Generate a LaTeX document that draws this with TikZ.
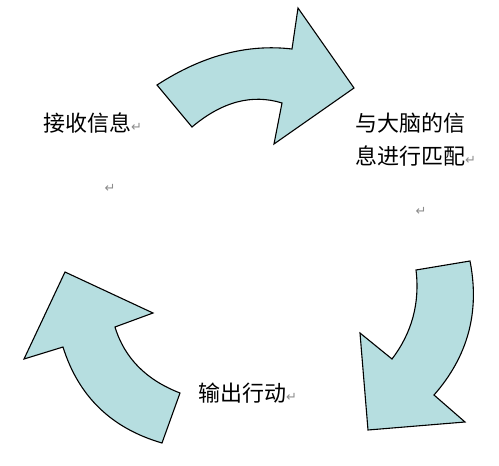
\documentclass[tikz,border=0pt]{standalone}
\usepackage{fontspec}
\newfontfamily\cjk{Noto Sans CJK SC}
\newfontfamily\markfont{DejaVu Sans}
\definecolor{arrowfill}{RGB}{182,222,224}
\newcommand\retmark{{\markfont\fontsize{13}{14}\selectfont\color{black!45}↵}}

\begin{document}
\begin{tikzpicture}[x=1pt, y=-1pt]
      \tikzstyle{every node} = [inner sep = 0pt, font=\cjk\fontsize{22}{26}\selectfont];
      \tikzstyle{bigarrow} = [draw=black, line width=1.1pt, fill=arrowfill, line join=miter];
      \useasboundingbox (0,0) rectangle (499,466);
      % top arrow
      \draw[bigarrow] (157,85) .. controls (202,55.7) and (247,43.7) .. (292,49) -- (298,8) -- (354,88)
        -- (274,144) -- (282,103) .. controls (252,93.7) and (222,101.7) .. (192,127) -- cycle;
      % right arrow
      \draw[bigarrow] (416,270) -- (470,261) .. controls (480,311.7) and (468,356.3) .. (434,395) -- (465,422)
        -- (368,430) -- (360,333) -- (392,359) .. controls (412,332.7) and (420,303) .. (416,270) -- cycle;
      % left arrow
      \draw[bigarrow] (162,443) -- (180,393) .. controls (146.1,379.9) and (124.4,357.9) .. (115,327) -- (153,313)
        -- (65,272) -- (24,359) -- (63,347) .. controls (78.4,396.3) and (111.4,428.3) .. (162,443) -- cycle;
      \node[anchor=base west] (receive) at (43,131.4) {接收信息\retmark};
      \node[anchor=base west] (match1) at (355,131.4) {与大脑的信};
      \node[anchor=base west] (match2) at (355,164.4) {息进行匹配\retmark};
      \node[anchor=base west] (act) at (198,401.4) {输出行动\retmark};
      \node (mark1) at (110,188) {\retmark};
      \node (mark2) at (421,211) {\retmark};
    \end{tikzpicture}
\end{document}
